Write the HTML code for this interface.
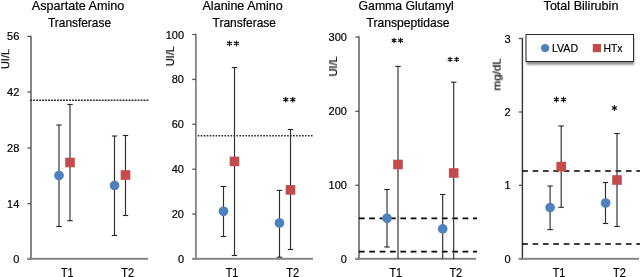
<!DOCTYPE html>
<html><head><meta charset="utf-8"><style>
html,body{margin:0;padding:0;background:#fff;}
body{width:640px;height:277px;overflow:hidden;}
svg{display:block;font-family:"Liberation Sans", sans-serif;}
text{will-change:transform;}
</style></head><body>
<svg width="640" height="277" viewBox="0 0 640 277">
<defs><filter id="blur" x="-10%" y="-20%" width="120%" height="140%"><feGaussianBlur stdDeviation="1"/></filter></defs>
<rect width="640" height="277" fill="#fff"/>
<text x="78.0" y="9.7" font-size="12.1" text-anchor="middle" font-weight="normal" fill="#000" textLength="92.5" lengthAdjust="spacingAndGlyphs" stroke="#000" stroke-width="0.2">Aspartate Amino</text>
<text x="79.5" y="26.5" font-size="12.1" text-anchor="middle" font-weight="normal" fill="#000" textLength="63" lengthAdjust="spacingAndGlyphs" stroke="#000" stroke-width="0.2">Transferase</text>
<rect x="30.00" y="35.80" width="2" height="224.00" fill="#858585"/>
<rect x="27.40" y="35.75" width="3.60" height="1.3" fill="#555"/>
<rect x="27.40" y="91.35" width="3.60" height="1.3" fill="#555"/>
<rect x="27.40" y="147.35" width="3.60" height="1.3" fill="#555"/>
<rect x="27.40" y="203.05" width="3.60" height="1.3" fill="#555"/>
<rect x="27.40" y="258.15" width="3.60" height="1.3" fill="#555"/>
<rect x="27.40" y="257.80" width="120.60" height="2" fill="#858585"/>
<text x="19.3" y="40.4" font-size="11" text-anchor="end" font-weight="normal" fill="#000" stroke="#000" stroke-width="0.2">56</text>
<text x="19.3" y="96.0" font-size="11" text-anchor="end" font-weight="normal" fill="#000" stroke="#000" stroke-width="0.2">42</text>
<text x="19.3" y="152.0" font-size="11" text-anchor="end" font-weight="normal" fill="#000" stroke="#000" stroke-width="0.2">28</text>
<text x="19.3" y="207.7" font-size="11" text-anchor="end" font-weight="normal" fill="#000" stroke="#000" stroke-width="0.2">14</text>
<text x="19.3" y="262.8" font-size="11" text-anchor="end" font-weight="normal" fill="#000" stroke="#000" stroke-width="0.2">0</text>
<text x="0" y="0" font-size="11" text-anchor="middle" fill="#000" textLength="20" lengthAdjust="spacingAndGlyphs" stroke="#000" stroke-width="0.2" transform="translate(9.2 59.0) rotate(-90)">UI/L</text>
<line x1="30.2" y1="100.3" x2="149" y2="100.3" stroke="#2a2a2a" stroke-width="1.5" stroke-dasharray="1.9 1.08"/>
<rect x="58.42" y="125.00" width="1.15" height="101.50" fill="#2e2e2e"/>
<rect x="56.30" y="124.45" width="5.40" height="1.1" fill="#262626"/>
<rect x="56.30" y="225.95" width="5.40" height="1.1" fill="#262626"/>
<rect x="69.42" y="104.50" width="1.15" height="116.20" fill="#2e2e2e"/>
<rect x="67.30" y="103.95" width="5.40" height="1.1" fill="#262626"/>
<rect x="67.30" y="220.15" width="5.40" height="1.1" fill="#262626"/>
<rect x="113.92" y="136.00" width="1.15" height="99.50" fill="#2e2e2e"/>
<rect x="111.80" y="135.45" width="5.40" height="1.1" fill="#262626"/>
<rect x="111.80" y="234.95" width="5.40" height="1.1" fill="#262626"/>
<rect x="124.92" y="135.50" width="1.15" height="80.00" fill="#2e2e2e"/>
<rect x="122.80" y="134.95" width="5.40" height="1.1" fill="#262626"/>
<rect x="122.80" y="214.95" width="5.40" height="1.1" fill="#262626"/>
<circle cx="59.0" cy="175.5" r="4.85" fill="#4f81bd"/>
<rect x="65.20" y="157.70" width="9.6" height="9.6" fill="#c34b4b"/>
<circle cx="114.5" cy="185.5" r="4.85" fill="#4f81bd"/>
<rect x="120.70" y="170.20" width="9.6" height="9.6" fill="#c34b4b"/>
<text x="67.3" y="277.3" font-size="12.4" text-anchor="middle" font-weight="normal" fill="#000" textLength="12.6" lengthAdjust="spacingAndGlyphs" stroke="#000" stroke-width="0.2">T1</text>
<text x="127.7" y="277.3" font-size="12.4" text-anchor="middle" font-weight="normal" fill="#000" textLength="12.8" lengthAdjust="spacingAndGlyphs" stroke="#000" stroke-width="0.2">T2</text>
<text x="242.6" y="9.7" font-size="12.1" text-anchor="middle" font-weight="normal" fill="#000" textLength="80.2" lengthAdjust="spacingAndGlyphs" stroke="#000" stroke-width="0.2">Alanine Amino</text>
<text x="244.3" y="26.5" font-size="12.1" text-anchor="middle" font-weight="normal" fill="#000" textLength="63.4" lengthAdjust="spacingAndGlyphs" stroke="#000" stroke-width="0.2">Transferase</text>
<rect x="195.00" y="33.90" width="1.8" height="225.90" fill="#858585"/>
<rect x="192.30" y="33.85" width="3.60" height="1.3" fill="#555"/>
<rect x="192.30" y="78.75" width="3.60" height="1.3" fill="#555"/>
<rect x="192.30" y="123.65" width="3.60" height="1.3" fill="#555"/>
<rect x="192.30" y="168.55" width="3.60" height="1.3" fill="#555"/>
<rect x="192.30" y="213.45" width="3.60" height="1.3" fill="#555"/>
<rect x="192.30" y="258.15" width="3.60" height="1.3" fill="#555"/>
<rect x="192.30" y="257.80" width="120.70" height="2" fill="#858585"/>
<text x="184.0" y="38.5" font-size="11" text-anchor="end" font-weight="normal" fill="#000" stroke="#000" stroke-width="0.2">100</text>
<text x="184.0" y="83.4" font-size="11" text-anchor="end" font-weight="normal" fill="#000" stroke="#000" stroke-width="0.2">80</text>
<text x="184.0" y="128.3" font-size="11" text-anchor="end" font-weight="normal" fill="#000" stroke="#000" stroke-width="0.2">60</text>
<text x="184.0" y="173.2" font-size="11" text-anchor="end" font-weight="normal" fill="#000" stroke="#000" stroke-width="0.2">40</text>
<text x="184.0" y="218.1" font-size="11" text-anchor="end" font-weight="normal" fill="#000" stroke="#000" stroke-width="0.2">20</text>
<text x="184.0" y="262.8" font-size="11" text-anchor="end" font-weight="normal" fill="#000" stroke="#000" stroke-width="0.2">0</text>
<text x="0" y="0" font-size="11" text-anchor="middle" fill="#000" textLength="20" lengthAdjust="spacingAndGlyphs" stroke="#000" stroke-width="0.2" transform="translate(174.0 56.2) rotate(-90)">UI/L</text>
<line x1="197.7" y1="135.75" x2="313.2" y2="135.75" stroke="#2a2a2a" stroke-width="1.5" stroke-dasharray="1.6 1.38"/>
<rect x="222.93" y="186.50" width="1.15" height="50.00" fill="#2e2e2e"/>
<rect x="220.80" y="185.95" width="5.40" height="1.1" fill="#262626"/>
<rect x="220.80" y="235.95" width="5.40" height="1.1" fill="#262626"/>
<rect x="233.93" y="67.50" width="1.15" height="188.00" fill="#2e2e2e"/>
<rect x="231.80" y="66.95" width="5.40" height="1.1" fill="#262626"/>
<rect x="231.80" y="254.95" width="5.40" height="1.1" fill="#262626"/>
<rect x="278.93" y="190.40" width="1.15" height="66.80" fill="#2e2e2e"/>
<rect x="276.80" y="189.85" width="5.40" height="1.1" fill="#262626"/>
<rect x="276.80" y="256.65" width="5.40" height="1.1" fill="#262626"/>
<rect x="289.93" y="129.50" width="1.15" height="120.00" fill="#2e2e2e"/>
<rect x="287.80" y="128.95" width="5.40" height="1.1" fill="#262626"/>
<rect x="287.80" y="248.95" width="5.40" height="1.1" fill="#262626"/>
<circle cx="223.5" cy="211.3" r="4.85" fill="#4f81bd"/>
<rect x="229.70" y="156.60" width="9.6" height="9.6" fill="#c34b4b"/>
<circle cx="279.5" cy="223.0" r="4.85" fill="#4f81bd"/>
<rect x="285.70" y="185.10" width="9.6" height="9.6" fill="#c34b4b"/>
<path d="M229.40 41.00L229.40 45.80M227.32 42.20L231.48 44.60M227.32 44.60L231.48 42.20" stroke="#111" stroke-width="1.15" stroke-linecap="round" fill="none"/>
<path d="M236.40 41.00L236.40 45.80M234.32 42.20L238.48 44.60M234.32 44.60L238.48 42.20" stroke="#111" stroke-width="1.15" stroke-linecap="round" fill="none"/>
<path d="M285.80 97.20L285.80 102.00M283.72 98.40L287.88 100.80M283.72 100.80L287.88 98.40" stroke="#111" stroke-width="1.15" stroke-linecap="round" fill="none"/>
<path d="M292.80 97.20L292.80 102.00M290.72 98.40L294.88 100.80M290.72 100.80L294.88 98.40" stroke="#111" stroke-width="1.15" stroke-linecap="round" fill="none"/>
<text x="232.0" y="277.3" font-size="12.4" text-anchor="middle" font-weight="normal" fill="#000" textLength="12.6" lengthAdjust="spacingAndGlyphs" stroke="#000" stroke-width="0.2">T1</text>
<text x="292.6" y="277.3" font-size="12.4" text-anchor="middle" font-weight="normal" fill="#000" textLength="12.8" lengthAdjust="spacingAndGlyphs" stroke="#000" stroke-width="0.2">T2</text>
<text x="406.2" y="9.7" font-size="12.1" text-anchor="middle" font-weight="normal" fill="#000" textLength="95.3" lengthAdjust="spacingAndGlyphs" stroke="#000" stroke-width="0.2">Gamma Glutamyl</text>
<text x="408.0" y="26.5" font-size="12.1" text-anchor="middle" font-weight="normal" fill="#000" textLength="83.1" lengthAdjust="spacingAndGlyphs" stroke="#000" stroke-width="0.2">Transpeptidase</text>
<rect x="358.00" y="36.40" width="2" height="223.40" fill="#858585"/>
<rect x="355.40" y="36.35" width="3.60" height="1.3" fill="#555"/>
<rect x="355.40" y="110.65" width="3.60" height="1.3" fill="#555"/>
<rect x="355.40" y="184.65" width="3.60" height="1.3" fill="#555"/>
<rect x="355.40" y="258.15" width="3.60" height="1.3" fill="#555"/>
<rect x="355.40" y="257.80" width="120.60" height="2" fill="#858585"/>
<text x="346.9" y="41.0" font-size="11" text-anchor="end" font-weight="normal" fill="#000" stroke="#000" stroke-width="0.2">300</text>
<text x="346.9" y="115.3" font-size="11" text-anchor="end" font-weight="normal" fill="#000" stroke="#000" stroke-width="0.2">200</text>
<text x="346.9" y="189.3" font-size="11" text-anchor="end" font-weight="normal" fill="#000" stroke="#000" stroke-width="0.2">100</text>
<text x="346.9" y="262.8" font-size="11" text-anchor="end" font-weight="normal" fill="#000" stroke="#000" stroke-width="0.2">0</text>
<text x="0" y="0" font-size="11" text-anchor="middle" fill="#000" textLength="20" lengthAdjust="spacingAndGlyphs" stroke="#000" stroke-width="0.2" transform="translate(337.0 66.4) rotate(-90)">UI/L</text>
<line x1="358.9" y1="218.4" x2="477" y2="218.4" stroke="#000" stroke-width="1.7" stroke-dasharray="5.7 4.67"/>
<line x1="358.9" y1="251.7" x2="477" y2="251.7" stroke="#000" stroke-width="1.7" stroke-dasharray="5.7 4.67"/>
<rect x="386.43" y="189.50" width="1.15" height="57.50" fill="#2e2e2e"/>
<rect x="384.30" y="188.95" width="5.40" height="1.1" fill="#262626"/>
<rect x="384.30" y="246.45" width="5.40" height="1.1" fill="#262626"/>
<rect x="397.43" y="66.40" width="1.15" height="192.60" fill="#2e2e2e"/>
<rect x="395.30" y="65.85" width="5.40" height="1.1" fill="#262626"/>
<rect x="442.12" y="194.50" width="1.15" height="64.50" fill="#2e2e2e"/>
<rect x="440.00" y="193.95" width="5.40" height="1.1" fill="#262626"/>
<rect x="453.12" y="82.20" width="1.15" height="176.80" fill="#2e2e2e"/>
<rect x="451.00" y="81.65" width="5.40" height="1.1" fill="#262626"/>
<circle cx="387.0" cy="218.3" r="4.85" fill="#4f81bd"/>
<rect x="393.20" y="159.70" width="9.6" height="9.6" fill="#c34b4b"/>
<circle cx="442.7" cy="228.9" r="4.85" fill="#4f81bd"/>
<rect x="448.90" y="168.20" width="9.6" height="9.6" fill="#c34b4b"/>
<path d="M394.10 38.30L394.10 42.70M392.19 39.40L396.01 41.60M392.19 41.60L396.01 39.40" stroke="#111" stroke-width="1.15" stroke-linecap="round" fill="none"/>
<path d="M400.60 38.30L400.60 42.70M398.69 39.40L402.51 41.60M398.69 41.60L402.51 39.40" stroke="#111" stroke-width="1.15" stroke-linecap="round" fill="none"/>
<path d="M450.10 57.20L450.10 61.60M448.19 58.30L452.01 60.50M448.19 60.50L452.01 58.30" stroke="#111" stroke-width="1.15" stroke-linecap="round" fill="none"/>
<path d="M456.60 57.20L456.60 61.60M454.69 58.30L458.51 60.50M454.69 60.50L458.51 58.30" stroke="#111" stroke-width="1.15" stroke-linecap="round" fill="none"/>
<text x="395.8" y="277.3" font-size="12.4" text-anchor="middle" font-weight="normal" fill="#000" textLength="12.6" lengthAdjust="spacingAndGlyphs" stroke="#000" stroke-width="0.2">T1</text>
<text x="455.8" y="277.3" font-size="12.4" text-anchor="middle" font-weight="normal" fill="#000" textLength="12.8" lengthAdjust="spacingAndGlyphs" stroke="#000" stroke-width="0.2">T2</text>
<text x="581.0" y="9.5" font-size="12.1" text-anchor="middle" font-weight="normal" fill="#000" textLength="74.8" lengthAdjust="spacingAndGlyphs" stroke="#000" stroke-width="0.2">Total Bilirubin</text>
<rect x="521.70" y="37.90" width="1.4" height="221.90" fill="#333"/>
<rect x="518.80" y="37.85" width="3.60" height="1.3" fill="#555"/>
<rect x="518.80" y="111.35" width="3.60" height="1.3" fill="#555"/>
<rect x="518.80" y="184.65" width="3.60" height="1.3" fill="#555"/>
<rect x="518.80" y="258.15" width="3.60" height="1.3" fill="#555"/>
<rect x="518.80" y="257.80" width="120.20" height="2" fill="#858585"/>
<text x="510.6" y="42.5" font-size="11" text-anchor="end" font-weight="normal" fill="#000" stroke="#000" stroke-width="0.2">3</text>
<text x="510.6" y="116.0" font-size="11" text-anchor="end" font-weight="normal" fill="#000" stroke="#000" stroke-width="0.2">2</text>
<text x="510.6" y="189.3" font-size="11" text-anchor="end" font-weight="normal" fill="#000" stroke="#000" stroke-width="0.2">1</text>
<text x="510.6" y="262.8" font-size="11" text-anchor="end" font-weight="normal" fill="#000" stroke="#000" stroke-width="0.2">0</text>
<text x="0" y="0" font-size="11" text-anchor="middle" fill="#000" textLength="32.5" lengthAdjust="spacingAndGlyphs" stroke="#000" stroke-width="0.2" transform="translate(500.6 74.4) rotate(-90)">mg/dL</text>
<line x1="522.2" y1="171.0" x2="640" y2="171.0" stroke="#000" stroke-width="1.7" stroke-dasharray="5.7 4.67"/>
<line x1="522.2" y1="244.0" x2="640" y2="244.0" stroke="#000" stroke-width="1.7" stroke-dasharray="5.7 4.67"/>
<rect x="549.52" y="186.00" width="1.15" height="43.60" fill="#2e2e2e"/>
<rect x="547.40" y="185.45" width="5.40" height="1.1" fill="#262626"/>
<rect x="547.40" y="229.05" width="5.40" height="1.1" fill="#262626"/>
<rect x="560.62" y="126.00" width="1.15" height="81.30" fill="#2e2e2e"/>
<rect x="558.50" y="125.45" width="5.40" height="1.1" fill="#262626"/>
<rect x="558.50" y="206.75" width="5.40" height="1.1" fill="#262626"/>
<rect x="604.92" y="182.50" width="1.15" height="41.00" fill="#2e2e2e"/>
<rect x="602.80" y="181.95" width="5.40" height="1.1" fill="#262626"/>
<rect x="602.80" y="222.95" width="5.40" height="1.1" fill="#262626"/>
<rect x="616.42" y="133.50" width="1.15" height="93.00" fill="#2e2e2e"/>
<rect x="614.30" y="132.95" width="5.40" height="1.1" fill="#262626"/>
<rect x="614.30" y="225.95" width="5.40" height="1.1" fill="#262626"/>
<circle cx="550.1" cy="207.6" r="4.85" fill="#4f81bd"/>
<rect x="556.40" y="161.80" width="9.6" height="9.6" fill="#c34b4b"/>
<circle cx="605.6" cy="203.0" r="4.85" fill="#4f81bd"/>
<rect x="612.20" y="175.20" width="9.6" height="9.6" fill="#c34b4b"/>
<path d="M556.40 97.10L556.40 101.90M554.32 98.30L558.48 100.70M554.32 100.70L558.48 98.30" stroke="#111" stroke-width="1.15" stroke-linecap="round" fill="none"/>
<path d="M563.50 97.10L563.50 101.90M561.42 98.30L565.58 100.70M561.42 100.70L565.58 98.30" stroke="#111" stroke-width="1.15" stroke-linecap="round" fill="none"/>
<path d="M614.40 105.50L614.40 110.50M612.23 106.75L616.57 109.25M612.23 109.25L616.57 106.75" stroke="#111" stroke-width="1.15" stroke-linecap="round" fill="none"/>
<text x="559.0" y="277.3" font-size="12.4" text-anchor="middle" font-weight="normal" fill="#000" textLength="12.6" lengthAdjust="spacingAndGlyphs" stroke="#000" stroke-width="0.2">T1</text>
<text x="619.4" y="277.3" font-size="12.4" text-anchor="middle" font-weight="normal" fill="#000" textLength="12.8" lengthAdjust="spacingAndGlyphs" stroke="#000" stroke-width="0.2">T2</text>
<rect x="526.5" y="37.2" width="107.5" height="27.5" fill="#8a8a8a" filter="url(#blur)"/>
<rect x="526.0" y="34.5" width="107.5" height="27" fill="#fff" stroke="#2a2a2a" stroke-width="1"/>
<circle cx="545.1" cy="48.1" r="4.2" fill="#4f81bd"/>
<rect x="592.8" y="44.0" width="8.2" height="8.2" fill="#c34b4b"/>
<text x="551.9" y="51.7" font-size="11.4" text-anchor="start" font-weight="normal" fill="#000" textLength="26.2" lengthAdjust="spacingAndGlyphs" stroke="#000" stroke-width="0.2">LVAD</text>
<text x="603.5" y="51.7" font-size="11.4" text-anchor="start" font-weight="normal" fill="#000" textLength="19.0" lengthAdjust="spacingAndGlyphs" stroke="#000" stroke-width="0.2">HTx</text>
</svg>
</body></html>
